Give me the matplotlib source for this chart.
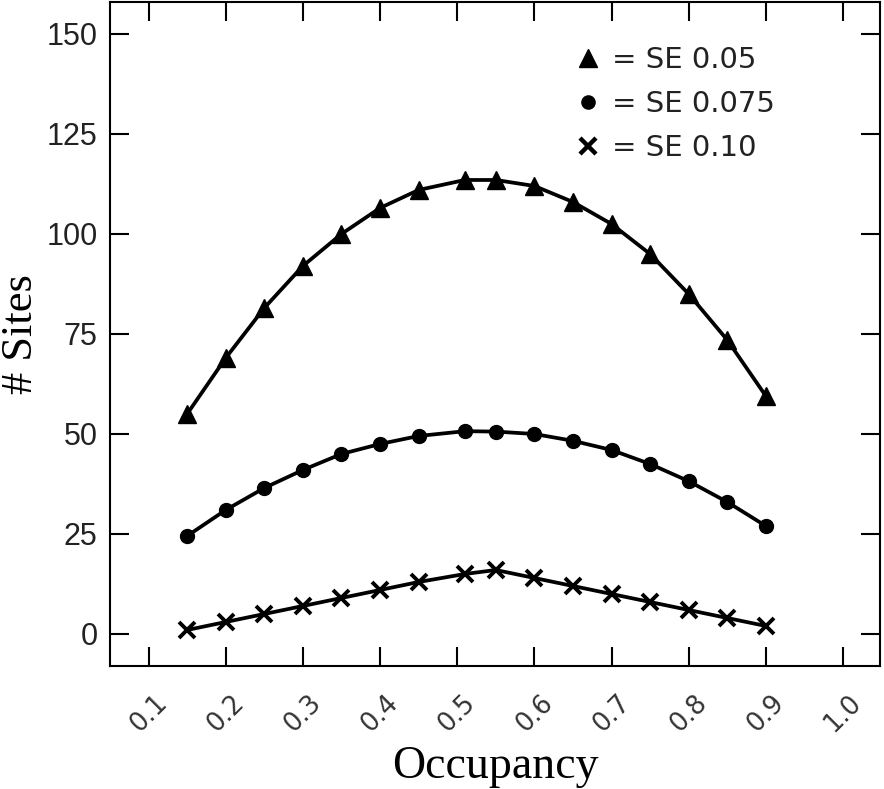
import matplotlib
matplotlib.use('Agg')
import matplotlib.pyplot as plt
from matplotlib.lines import Line2D

occupancy = [0.15, 0.20, 0.25, 0.30, 0.35, 0.40, 0.45, 0.51,
             0.55, 0.60, 0.65, 0.70, 0.75, 0.80, 0.85, 0.90]
se_005 = [55, 69, 81.5, 92, 100, 106.5, 111, 113.5,
          113.5, 112, 108, 102.5, 95, 85, 73.5, 59.5]
se_0075 = [24.5, 31, 36.5, 41, 45, 47.5, 49.5, 50.7,
           50.6, 50, 48.3, 46, 42.5, 38.2, 33, 27]
se_010 = [1, 3, 5, 7, 9, 11, 13, 15,
          16, 14, 12, 10, 8, 6, 4, 2]

xticks = [0.1, 0.2, 0.3, 0.4, 0.5, 0.6, 0.7, 0.8, 0.9, 1.0]
xticklabels = ['0.1', '0.2', '0.3', '0.4', '0.5', '0.6', '0.7', '0.8', '0.9', '1.0']
yticks = [0, 25, 50, 75, 100, 125, 150]
legend_labels = ['= SE 0.05', '= SE 0.075', '= SE 0.10']

fig = plt.figure(figsize=(8.84, 7.89), dpi=100)
ax = fig.add_axes([0.1244, 0.1559, 0.8711, 0.8416])

ax.plot(occupancy, se_005, color='black', lw=2.7, marker='^', ms=13)
ax.plot(occupancy, se_0075, color='black', lw=2.7, marker='o', ms=10)
ax.plot(occupancy, se_010, color='black', lw=2.7, marker='x', ms=11.5, mew=2.8)

ax.set_xlim(0.05, 1.048)
ax.set_ylim(-8, 158)

ax.set_xticks(xticks)
ax.set_xticklabels(xticklabels, rotation=45, fontsize=18.5, color='#333333',
                   family='DejaVu Sans')
ax.set_yticks(yticks)
ax.set_yticklabels([str(v) for v in yticks], fontsize=22, color='#222222',
                   family='Liberation Sans')
ax.tick_params(axis='both', direction='in', length=14, width=1.5,
               top=True, right=True)
ax.tick_params(axis='x', pad=17)
ax.tick_params(axis='y', pad=9)
for s in ax.spines.values():
    s.set_linewidth(1.5)

ax.set_xlabel('Occupancy', fontsize=33, family='Liberation Serif', labelpad=6)
ax.set_ylabel('# Sites', fontsize=32, family='Liberation Serif', labelpad=4)

handles = [Line2D([], [], color='black', ls='none', marker='^', ms=13),
           Line2D([], [], color='black', ls='none', marker='o', ms=9.5),
           Line2D([], [], color='black', ls='none', marker='x', ms=11, mew=3.2)]
leg = ax.legend(handles, legend_labels, loc='upper left',
                bbox_to_anchor=(0.572, 0.973), frameon=False,
                prop={'family': 'DejaVu Sans', 'size': 21},
                handlelength=0.8, handletextpad=0.4, labelspacing=0.55)
for t in leg.get_texts():
    t.set_color('#222222')

plt.savefig('out.png', dpi=100)
